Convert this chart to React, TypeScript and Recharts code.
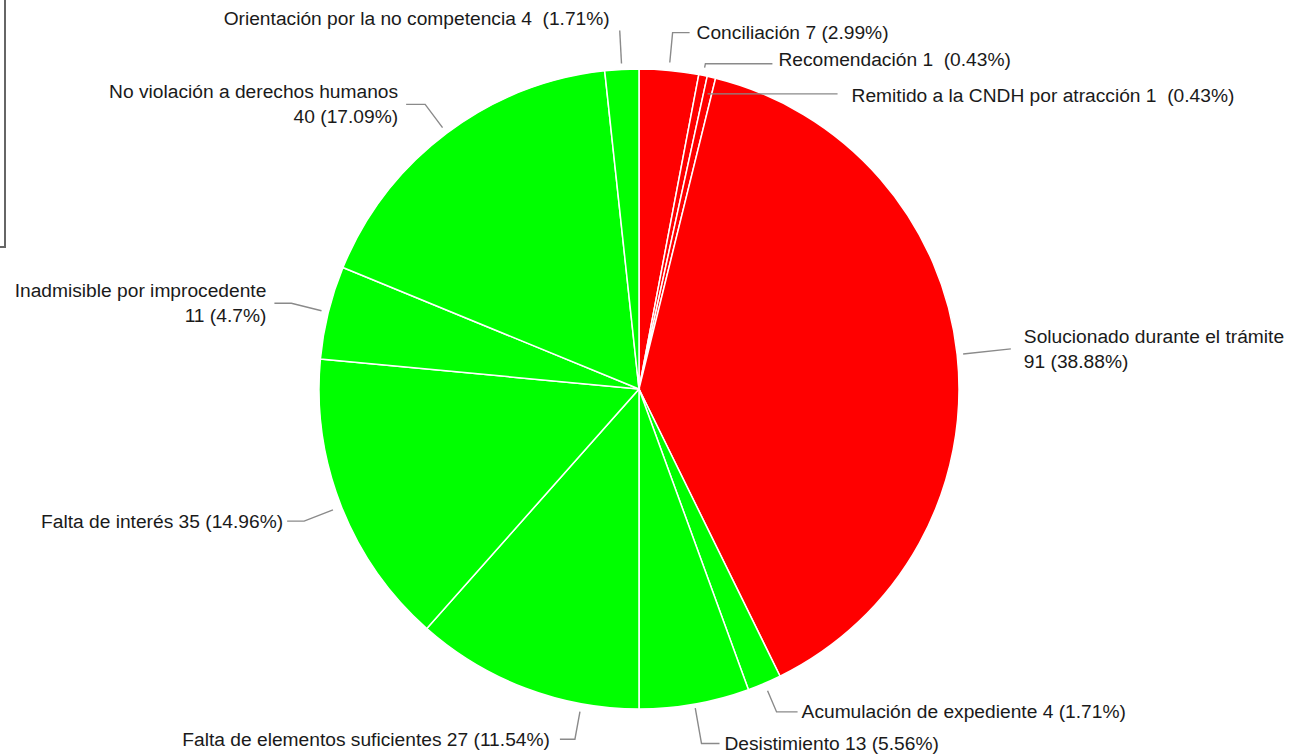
import { PieChart, Pie, Cell } from 'recharts';

const names = [
  'Conciliación',
  'Recomendación',
  'Remitido a la CNDH por atracción',
  'Solucionado durante el trámite',
  'Acumulación de expediente',
  'Desistimiento',
  'Falta de elementos suficientes',
  'Falta de interés',
  'Inadmisible por improcedente',
  'No violación a derechos humanos',
  'Orientación por la no competencia',
];
const values = [7, 1, 1, 91, 4, 13, 27, 35, 11, 40, 4];
const percents = ['2.99', '0.43', '0.43', '38.88', '1.71', '5.56', '11.54', '14.96', '4.7', '17.09', '1.71'];

const RED = '#ff0000';
const GREEN = '#00ff00';
const sliceColors = [RED, RED, RED, RED, GREEN, GREEN, GREEN, GREEN, GREEN, GREEN, GREEN];

// leader geometry per label: start radius offset, radial run, horizontal run, text gap
type Layout = {
  shift?: number;
  r0: number;
  len1: number;
  len2: number;
  gap: number;
  anchor: 'start' | 'end';
  dy?: number;
  split?: boolean;
  sep?: string;
};
const labelLayout: Layout[] = [
  { r0: 8, len1: 30, len2: 17, gap: 7, anchor: 'start' },
  { r0: 8, len1: 4, len2: 67, gap: 6, anchor: 'start', dy: -4, sep: '  ' },
  { r0: -17, len1: 0, len2: 130, gap: 14, anchor: 'start', dy: 2, sep: '  ' },
  { r0: 6, len1: 48, len2: 0, gap: 13, anchor: 'start', split: true },
  { r0: 8, len1: 23, len2: 21, gap: 4, anchor: 'start' },
  { r0: 4, len1: 36, len2: 18, gap: 5, anchor: 'start' },
  { shift: -10.4, r0: 8, len1: 28, len2: -15, gap: 10, anchor: 'end' },
  { r0: 9, len1: 31, len2: -17, gap: 4, anchor: 'end' },
  { r0: 7, len1: 31, len2: -17, gap: 8, anchor: 'end', split: true },
  { r0: 7, len1: 29, len2: -19, gap: 8, anchor: 'end', split: true },
  { r0: 6, len1: 33, len2: 0, gap: 10, anchor: 'end', dy: -12, sep: '  ' },
];

const data = names.map((name, i) => ({ name, value: values[i] }));

const RAD = Math.PI / 180;
const FONT = '"Liberation Sans", Arial, sans-serif';

function renderLabel(props: any) {
  const { cx, cy, midAngle, outerRadius, index } = props;
  const L = labelLayout[index];
  const theta = 90 - midAngle + (L.shift || 0);
  const ux = Math.sin(theta * RAD);
  const uy = -Math.cos(theta * RAD);
  const r0 = outerRadius + L.r0;
  const p0 = [cx + r0 * ux, cy + r0 * uy];
  const p1 = [p0[0] + L.len1 * ux, p0[1] + L.len1 * uy];
  const p2 = [p1[0] + L.len2, p1[1]];
  const tx = L.anchor === 'start' ? p2[0] + L.gap : p2[0] - L.gap;
  const ty = p2[1] + (L.dy || 0);
  const sep = L.sep || ' ';
  const lines = L.split
    ? [names[index], `${values[index]} (${percents[index]}%)`]
    : [`${names[index]} ${values[index]}${sep}(${percents[index]}%)`];
  const lh = 25;
  return (
    <g key={`lbl-${index}`}>
      <polyline
        points={[p0, p1, p2].map((p) => p.join(',')).join(' ')}
        fill="none"
        stroke="#8a8a8a"
        strokeWidth={1.4}
      />
      <text
        x={tx}
        y={ty}
        textAnchor={L.anchor}
        fill="#1a1a1a"
        fontSize={19.2}
        fontFamily={FONT}
        style={{ whiteSpace: 'pre' }}
      >
        {lines.map((line, k) => (
          <tspan
            key={k}
            x={tx}
            y={ty + (k - (lines.length - 1) / 2) * lh}
            dominantBaseline="central"
          >
            {line}
          </tspan>
        ))}
      </text>
    </g>
  );
}

export default function App() {
  return (
    <div style={{ position: 'absolute', left: 0, top: 0, width: 1297, height: 755, background: '#fff' }}>
      <div
        style={{
          position: 'absolute',
          left: 0,
          top: 0,
          width: 4,
          height: 246,
          borderRight: '2px solid #666',
          borderBottom: '2px solid #666',
        }}
      />
      <PieChart width={1297} height={755} margin={{ top: 0, right: 0, bottom: 0, left: 0 }}>
        <Pie
          data={data}
          dataKey="value"
          nameKey="name"
          cx={639}
          cy={389}
          outerRadius={320}
          startAngle={90}
          endAngle={-270}
          stroke="#ffffff"
          strokeWidth={1.5}
          label={renderLabel}
          labelLine={false}
          isAnimationActive={false}
        >
          {data.map((d, i) => (
            <Cell key={d.name} fill={sliceColors[i]} />
          ))}
        </Pie>
      </PieChart>
    </div>
  );
}
